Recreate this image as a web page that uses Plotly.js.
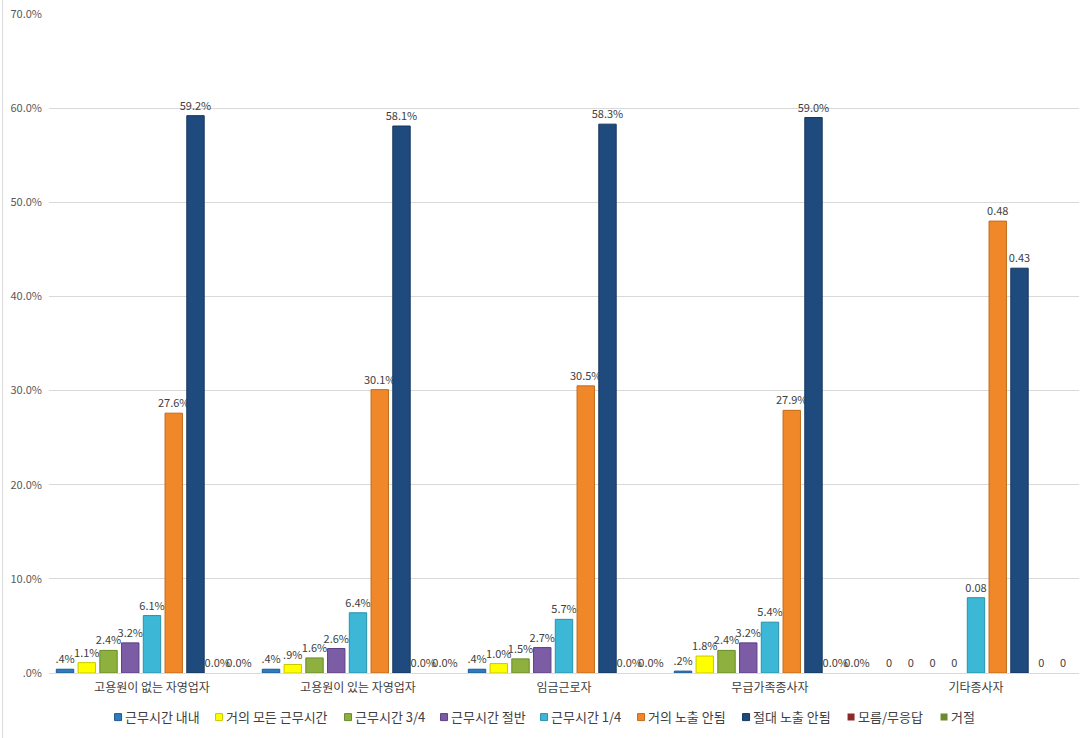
<!DOCTYPE html>
<html>
<head>
<meta charset="utf-8">
<script src="https://cdn.plot.ly/plotly-3.0.1.min.js"></script>
<style>html,body{margin:0;padding:0;background:#fff;}#chart{width:1092px;height:738px;}</style>
</head>
<body>
<div id="chart"></div>
<script>
var categories = ['고용원이 없는 자영업자', '고용원이 있는 자영업자', '임금근로자', '무급가족종사자', '기타종사자'];
var seriesNames = ['근무시간 내내', '거의 모든 근무시간', '근무시간 3/4', '근무시간 절반', '근무시간 1/4', '거의 노출 안됨', '절대 노출 안됨', '모름/무응답', '거절'];
var s1 = [0.004, 0.004, 0.004, 0.002, 0];
var s2 = [0.011, 0.009, 0.010, 0.018, 0];
var s3 = [0.024, 0.016, 0.015, 0.024, 0];
var s4 = [0.032, 0.026, 0.027, 0.032, 0];
var s5 = [0.061, 0.064, 0.057, 0.054, 0.08];
var s6 = [0.276, 0.301, 0.305, 0.279, 0.48];
var s7 = [0.592, 0.581, 0.583, 0.590, 0.43];
var s8 = [0, 0, 0, 0, 0];
var s9 = [0, 0, 0, 0, 0];
var t1 = ['.4%', '.4%', '.4%', '.2%', '0'];
var t2 = ['1.1%', '.9%', '1.0%', '1.8%', '0'];
var t3 = ['2.4%', '1.6%', '1.5%', '2.4%', '0'];
var t4 = ['3.2%', '2.6%', '2.7%', '3.2%', '0'];
var t5 = ['6.1%', '6.4%', '5.7%', '5.4%', '0.08'];
var t6 = ['27.6%', '30.1%', '30.5%', '27.9%', '0.48'];
var t7 = ['59.2%', '58.1%', '58.3%', '59.0%', '0.43'];
var t8 = ['0.0%', '0.0%', '0.0%', '0.0%', '0'];
var t9 = ['0.0%', '0.0%', '0.0%', '0.0%', '0'];
var tickVals = [0, 0.1, 0.2, 0.3, 0.4, 0.5, 0.6, 0.7];
var tickText = ['.0%', '10.0%', '20.0%', '30.0%', '40.0%', '50.0%', '60.0%', '70.0%'];

var values = [s1, s2, s3, s4, s5, s6, s7, s8, s9];
var texts = [t1, t2, t3, t4, t5, t6, t7, t8, t9];
var colors = ['#2E7BBF', '#FFFF00', '#8DB03E', '#7D5CA6', '#3DB7D6', '#F0882A', '#1F4A7E', '#8C2A28', '#6E8A2C'];
var lines = ['#1F5A90', '#C8C800', '#6A8A2A', '#5A4080', '#2A90AA', '#C06A1A', '#15355C', '#6A1E1C', '#506A1E'];
var legendWidths = [56, 84, 51, 55, 52, 60, 60, 48, 40];

var FONT = '"Noto Sans CJK KR", "Noto Sans", sans-serif';
var traces = values.map(function (v, i) {
  return {
    type: 'bar',
    name: seriesNames[i],
    x: categories,
    y: v,
    text: texts[i],
    textposition: 'outside',
    constraintext: 'none',
    cliponaxis: false,
    legendwidth: legendWidths[i],
    textfont: {family: FONT, size: 11, color: '#404040'},
    marker: {
      color: colors[i],
      line: {color: lines[i], width: v.map(function (d) { return d > 0 ? 1 : 0; })}
    },
    hoverinfo: 'x+y+name'
  };
});

var layout = {
  width: 1092,
  height: 738,
  margin: {l: 49, r: 13, t: 14, b: 65, autoexpand: false},
  paper_bgcolor: '#ffffff',
  plot_bgcolor: '#ffffff',
  font: {family: FONT, size: 11, color: '#404040'},
  barmode: 'group',
  bargap: 0.05,
  bargroupgap: 0.2,
  showlegend: true,
  legend: {
    orientation: 'h',
    x: 0.035, xanchor: 'left',
    y: -0.067, yanchor: 'middle',
    font: {family: FONT, size: 13, color: '#404040'},
    itemwidth: 30,
    tracegroupgap: 0
  },
  xaxis: {
    type: 'category',
    showgrid: false,
    showline: true,
    linecolor: '#d9d9d9',
    ticks: '',
    tickfont: {family: FONT, size: 12, color: '#404040'},
    ticklabelstandoff: 4
  },
  yaxis: {
    range: [0, 0.7],
    tickvals: tickVals,
    ticktext: tickText,
    showgrid: true,
    gridcolor: '#d9d9d9',
    zeroline: false,
    showline: false,
    ticks: '',
    tickfont: {family: FONT, size: 11, color: '#595959'},
    ticklabelstandoff: 6
  },
  shapes: [{
    type: 'line', xref: 'paper', yref: 'paper',
    x0: -0.045, x1: -0.045, y0: -0.1, y1: 1.03,
    line: {color: '#d9d9d9', width: 1}
  }]
};

Plotly.newPlot('chart', traces, layout, {displayModeBar: false, staticPlot: true}).then(function (gd) {
  // Compact legend swatches placed right before their labels, like the original
  var paths = gd.querySelectorAll('.legend .legendpoints path');
  paths.forEach(function (p) {
    p.setAttribute('d', 'M3.5,3.5H-3.5V-3.5H3.5Z');
    p.setAttribute('transform', 'translate(33,0)');
    p.style.strokeWidth = '1px';
  });
});
</script>
</body>
</html>
